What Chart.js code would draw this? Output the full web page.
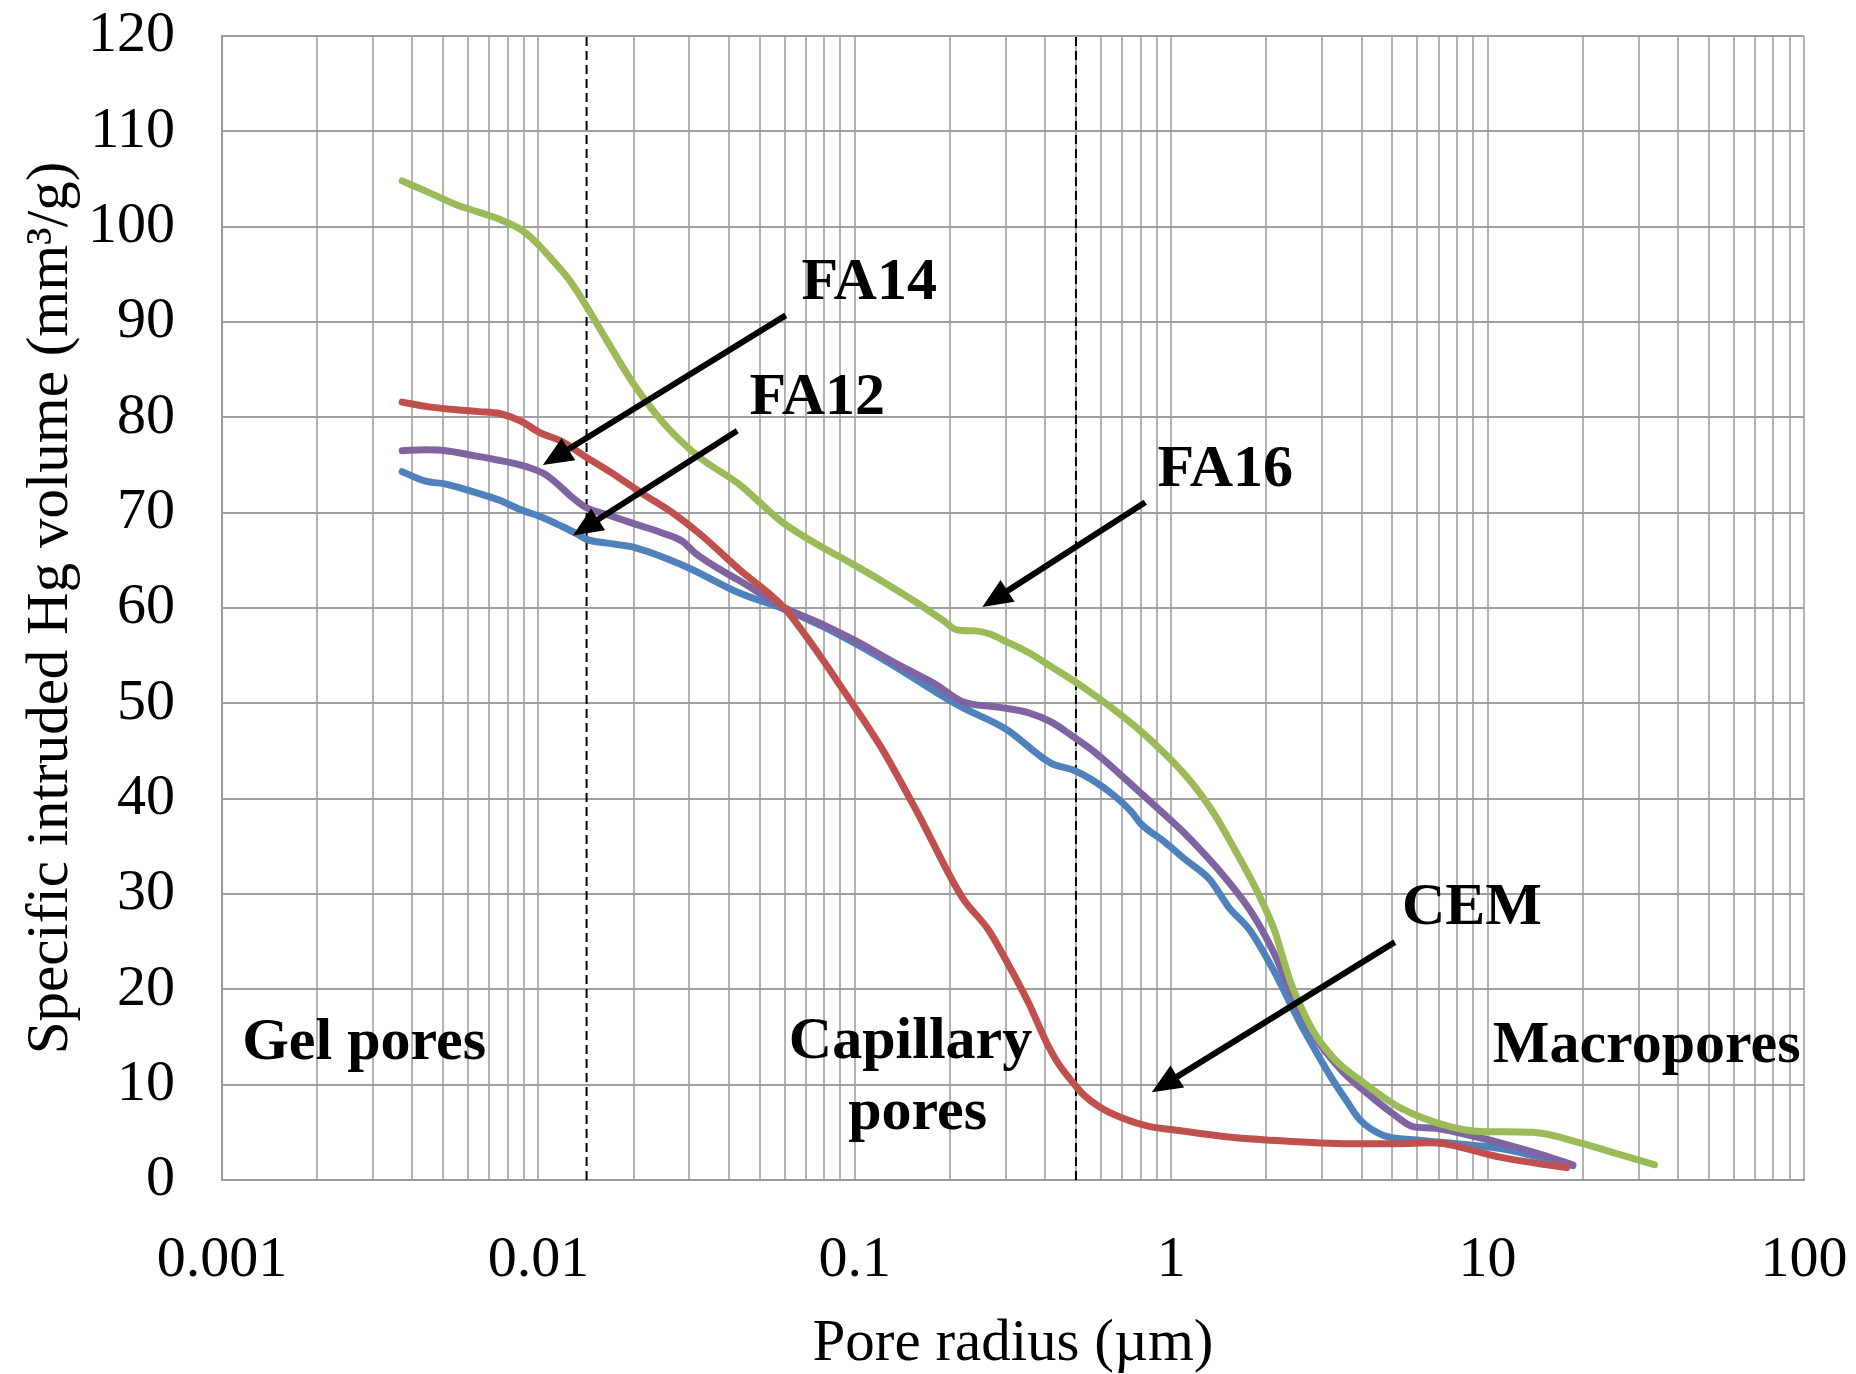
<!DOCTYPE html>
<html>
<head>
<meta charset="utf-8">
<script src="https://cdn.jsdelivr.net/npm/chart.js@4.4.1/dist/chart.umd.min.js"></script>
<style>
html,body{margin:0;padding:0;background:#ffffff;}
#wrap{width:1856px;height:1374px;position:relative;}
</style>
</head>
<body>
<div id="wrap"><canvas id="c" width="1856" height="1374"></canvas></div>
<script>
// ---------------- data (pore radius in µm, intruded volume in mm³/g) ----------------
const seriesNames = ['CEM', 'FA12', 'FA14', 'FA16'];

const cemX = [0.00371, 0.0045, 0.0055, 0.0065, 0.00754, 0.0088, 0.0101, 0.0118, 0.0142, 0.017, 0.0213, 0.0265, 0.0323, 0.0433, 0.0595, 0.075, 0.0906, 0.121, 0.158, 0.218, 0.265, 0.30, 0.354, 0.404, 0.44, 0.49, 0.53, 0.594, 0.7, 0.856, 1.0, 1.52, 2.0, 3.67, 5.0, 6.72, 7.6, 9.0, 10.95, 14.0, 17.8];
const cemY = [81.6, 81.1, 80.8, 80.6, 80.4, 79.6, 78.4, 77.5, 75.8, 74.2, 72.0, 70.0, 67.8, 64.0, 60.1, 55.7, 51.7, 45.4, 38.5, 29.7, 26.2, 23.1, 18.6, 14.4, 12.2, 10.2, 8.9, 7.65, 6.5, 5.6, 5.3, 4.5, 4.2, 3.8, 3.8, 3.9, 3.7, 3.1, 2.4, 1.8, 1.3];

const fa12X = [0.00371, 0.0044, 0.0051, 0.0062, 0.00754, 0.0088, 0.0103, 0.0118, 0.0132, 0.0142, 0.0165, 0.0198, 0.0294, 0.043, 0.0595, 0.08, 0.1, 0.138, 0.18, 0.218, 0.3, 0.418, 0.49, 0.56, 0.65, 0.75, 0.8, 0.95, 1.11, 1.326, 1.52, 1.773, 2.13, 2.55, 2.9, 3.24, 3.6, 3.95, 4.67, 5.98, 8.0, 11.0, 14.5, 18.6];
const fa12Y = [74.3, 73.3, 73.0, 72.2, 71.3, 70.3, 69.5, 68.6, 67.8, 67.2, 66.8, 66.4, 64.3, 61.6, 59.9, 58.0, 56.3, 53.6, 51.2, 49.6, 47.3, 43.7, 43.0, 42.0, 40.5, 38.6, 37.4, 35.5, 33.6, 31.5, 28.6, 26.2, 21.7, 16.5, 13.2, 10.5, 8.2, 6.3, 4.7, 4.2, 3.8, 3.3, 2.4, 1.5];

const fa14X = [0.00371, 0.0044, 0.0051, 0.0062, 0.0075, 0.0083, 0.0092, 0.0104, 0.0115, 0.0128, 0.0142, 0.0165, 0.0198, 0.0245, 0.0285, 0.0312, 0.0364, 0.043, 0.0595, 0.08, 0.1, 0.138, 0.18, 0.218, 0.283, 0.355, 0.42, 0.49, 0.577, 0.8, 1.1, 1.5, 1.8, 2.10, 2.43, 2.89, 3.5, 4.16, 5.0, 5.81, 6.72, 8.5, 10.95, 14.0, 18.6];
const fa14Y = [76.5, 76.6, 76.5, 76.0, 75.5, 75.2, 74.8, 74.1, 73.0, 71.6, 70.5, 69.8, 68.9, 67.9, 67.0, 65.8, 64.3, 62.9, 60.1, 58.2, 56.6, 54.0, 52.0, 50.2, 49.6, 49.0, 48.0, 46.5, 44.8, 40.6, 36.4, 31.5, 28.0, 24.0, 19.2, 14.7, 11.3, 9.1, 7.0, 5.6, 5.45, 4.8, 3.9, 2.9, 1.6];

const fa16X = [0.00371, 0.0045, 0.0055, 0.0065, 0.0075, 0.0088, 0.0098, 0.011, 0.0124, 0.0138, 0.0165, 0.0199, 0.025, 0.0323, 0.043, 0.0527, 0.0595, 0.075, 0.0985, 0.125, 0.158, 0.19, 0.211, 0.24, 0.266, 0.3, 0.355, 0.42, 0.49, 0.57, 0.65, 0.8, 0.95, 1.1, 1.25, 1.38, 1.55, 1.79, 1.95, 2.13, 2.25, 2.37, 2.49, 2.8, 3.3, 3.95, 5.28, 7.6, 9.5, 13.9, 19.6, 26, 33.7];
const fa16Y = [104.8, 103.6, 102.3, 101.5, 100.8, 99.7, 98.4, 96.6, 94.6, 92.3, 88.0, 83.6, 79.3, 75.8, 73.0, 70.4, 68.9, 66.8, 64.6, 62.6, 60.5, 58.7, 57.7, 57.6, 57.3, 56.5, 55.3, 53.8, 52.4, 50.9, 49.5, 47.1, 44.8, 42.6, 40.3, 38.2, 35.3, 31.5, 29.0, 26.0, 23.4, 21.0, 19.2, 15.7, 12.6, 10.5, 7.6, 5.6, 5.1, 5.0, 3.9, 2.7, 1.6];

// pore-class boundaries (µm) drawn as dashed verticals across the full y range
const boundaryX = [0.0142, 0.5];
const boundaryY = [0, 120];

// axis ticks
const xDecades = [0.001, 0.01, 0.1, 1, 10, 100];
const xTickLabels = ['0.001', '0.01', '0.1', '1', '10', '100'];
const yTickValues = [0, 10, 20, 30, 40, 50, 60, 70, 80, 90, 100, 110, 120];

// annotation texts and their anchors (data units)
const noteTexts = ['FA14', 'FA12', 'FA16', 'CEM', 'Gel pores', 'Capillary', 'pores', 'Macropores'];
const noteX = [0.0678, 0.0465, 0.905, 5.36, 0.001158, 0.150, 0.158, 10.39];
const noteY = [94.0, 82.0, 74.4, 28.5, 14.3, 14.4, 7.0, 14.0];
const noteAlign = ['left', 'left', 'left', 'left', 'left', 'center', 'center', 'left'];

// arrows (tail -> head) in data units
const arrowFromX = [0.0605, 0.0425, 0.828, 5.09];
const arrowFromY = [90.7, 78.6, 71.1, 24.95];
const arrowToX = [0.01033, 0.01285, 0.253, 0.868];
const arrowToY = [75.0, 67.6, 60.1, 9.2];

// ---------------- chart ----------------
const SERIF = "'Liberation Serif', 'Times New Roman', Times, serif";
const pts = (xs, ys) => xs.map((x, i) => ({x: x, y: ys[i]}));

function lineSet(label, xs, ys, color, order) {
  return {
    label: label, data: pts(xs, ys), showLine: true,
    borderColor: color, backgroundColor: color, borderWidth: 7,
    pointRadius: 0, pointHoverRadius: 0, fill: false,
    cubicInterpolationMode: 'monotone', borderCapStyle: 'round', borderJoinStyle: 'round',
    order: order
  };
}

const datasets = [
  lineSet(seriesNames[0], cemX, cemY, '#C0504D', 1),
  lineSet(seriesNames[3], fa16X, fa16Y, '#9BBB59', 2),
  lineSet(seriesNames[2], fa14X, fa14Y, '#8064A2', 3),
  lineSet(seriesNames[1], fa12X, fa12Y, '#4F81BD', 4)
];
boundaryX.forEach((bx, i) => {
  datasets.push({
    label: 'boundary' + (i + 1),
    data: boundaryY.map(by => ({x: bx, y: by})),
    showLine: true, borderColor: '#000000', borderWidth: 2, borderDash: [9, 5],
    pointRadius: 0, pointHoverRadius: 0, fill: false, order: 5
  });
});

const annotationPlugin = {
  id: 'annotations',
  afterDraw(chart) {
    const ctx = chart.ctx;
    const xs = chart.scales.x, ys = chart.scales.y;
    ctx.save();
    ctx.strokeStyle = '#000000';
    ctx.fillStyle = '#000000';
    ctx.lineWidth = 6;
    ctx.lineCap = 'butt';
    for (let i = 0; i < arrowFromX.length; i++) {
      const x1 = xs.getPixelForValue(arrowFromX[i]), y1 = ys.getPixelForValue(arrowFromY[i]);
      const x2 = xs.getPixelForValue(arrowToX[i]), y2 = ys.getPixelForValue(arrowToY[i]);
      const ang = Math.atan2(y2 - y1, x2 - x1);
      const headLen = 30, headHalf = 13;
      const bx = x2 - headLen * Math.cos(ang), by = y2 - headLen * Math.sin(ang);
      ctx.beginPath();
      ctx.moveTo(x1, y1);
      ctx.lineTo(bx + 2 * Math.cos(ang), by + 2 * Math.sin(ang));
      ctx.stroke();
      ctx.beginPath();
      ctx.moveTo(x2, y2);
      ctx.lineTo(bx + headHalf * Math.sin(ang), by - headHalf * Math.cos(ang));
      ctx.lineTo(bx - headHalf * Math.sin(ang), by + headHalf * Math.cos(ang));
      ctx.closePath();
      ctx.fill();
    }
    ctx.font = 'bold 60px ' + SERIF;
    ctx.textBaseline = 'middle';
    for (let i = 0; i < noteTexts.length; i++) {
      ctx.textAlign = noteAlign[i];
      ctx.fillText(noteTexts[i], xs.getPixelForValue(noteX[i]), ys.getPixelForValue(noteY[i]));
    }
    ctx.restore();
  }
};

new Chart(document.getElementById('c'), {
  type: 'scatter',
  data: {datasets: datasets},
  plugins: [annotationPlugin],
  options: {
    responsive: false,
    animation: false,
    devicePixelRatio: 1,
    layout: {padding: {top: 36, right: 52, left: 0, bottom: 0}},
    plugins: {legend: {display: false}, tooltip: {enabled: false}},
    scales: {
      x: {
        type: 'logarithmic',
        min: xDecades[0], max: xDecades[xDecades.length - 1],
        afterBuildTicks(scale) {
          const t = [];
          for (let d = 0; d < xDecades.length - 1; d++) {
            for (let m = 1; m <= 9; m++) t.push({value: xDecades[d] * m});
          }
          t.push({value: xDecades[xDecades.length - 1]});
          scale.ticks = t;
        },
        afterFit(scale) {
          scale.height = 194;
          scale.paddingLeft = 0; scale.paddingRight = 0;
          scale.paddingTop = 0; scale.paddingBottom = 0;
        },
        ticks: {
          autoSkip: false, maxRotation: 0, minRotation: 0, padding: 46, color: '#000000',
          font: {family: SERIF, size: 58},
          callback(value) {
            const k = xDecades.findIndex(d => Math.abs(d - value) / d < 1e-6);
            return k >= 0 ? xTickLabels[k] : '';
          }
        },
        grid: {color: '#b3b3b3', lineWidth: 2, drawTicks: false},
        border: {display: true, color: '#9a9a9a', width: 2},
        title: {display: true, text: 'Pore radius (µm)', color: '#000000',
                font: {family: SERIF, size: 59, lineHeight: 1.0}, padding: {top: 0, bottom: 0}}
      },
      y: {
        type: 'linear', min: 0, max: 120,
        afterBuildTicks(scale) { scale.ticks = yTickValues.map(v => ({value: v})); },
        afterFit(scale) {
          scale.width = 222;
          scale.paddingLeft = 0; scale.paddingRight = 0;
          scale.paddingTop = 0; scale.paddingBottom = 0;
        },
        ticks: {padding: 47, color: '#000000', font: {family: SERIF, size: 58}},
        grid: {color: '#9f9f9f', lineWidth: 2, drawTicks: false},
        border: {display: true, color: '#9a9a9a', width: 2},
        title: {display: true, text: 'Specific intruded Hg volume (mm³/g)', color: '#000000',
                font: {family: SERIF, size: 59}, padding: {top: 16, bottom: 0}}
      }
    }
  }
});
</script>
</body>
</html>
